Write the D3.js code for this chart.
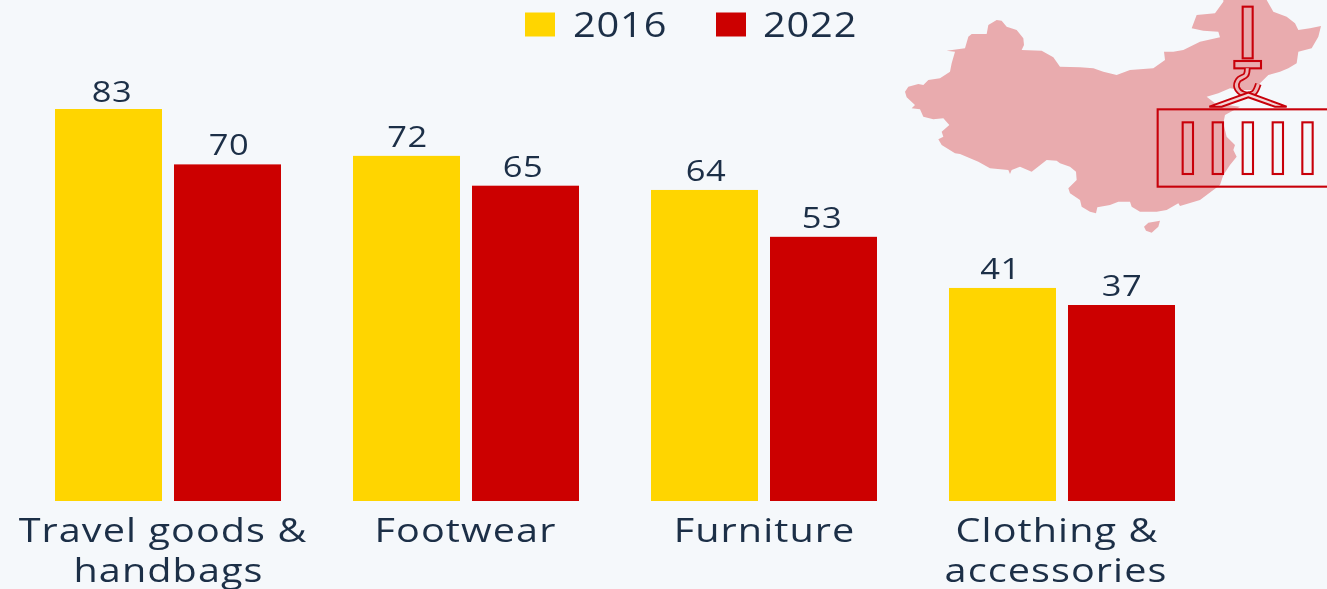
<!DOCTYPE html>
<html><head><meta charset="utf-8">
<script src="https://cdn.jsdelivr.net/npm/d3@7"></script>
<style>
html,body{margin:0;padding:0;background:#f5f8fb;overflow:hidden}
svg{display:block;filter:blur(0.45px)}
text{font-family:"Open Sans",sans-serif;fill:#1c2f47}
</style></head><body><svg id="c" width="1327" height="589"></svg>
<script>
const categories=["Travel goods &|handbags","Footwear","Furniture","Clothing &|accessories"];
const seriesNames=["2016","2022"];
const values2016=[83,72,64,41];
const values2022=[70,65,53,37];
const seriesColors=["#ffd500","#cc0000"];
// decoration outline (map silhouette), traced in crop coordinates
const mapOutline=[[45,275],[55,260],[85,252],[100,255],[115,240],[150,235],[180,215],[185,190],[195,155],[170,152],[225,145],[235,110],[245,102],[290,102],[295,75],[320,60],[335,62],[350,80],[380,90],[400,115],[402,135],[395,150],[455,152],[490,172],[510,200],[570,202],[610,205],[640,215],[680,225],[720,210],[790,205],[825,180],[822,155],[850,155],[880,150],[930,125],[990,112],[985,95],[940,92],[905,85],[920,45],[975,40],[1000,5],[1000,0],[1130,0],[1150,35],[1190,50],[1215,70],[1225,90],[1260,85],[1293,78],[1285,110],[1265,145],[1225,155],[1220,190],[1195,205],[1170,215],[1135,225],[1110,250],[1090,270],[1060,270],[1020,265],[985,280],[950,290],[975,310],[1050,320],[1005,345],[1000,370],[1010,410],[1035,435],[1030,450],[1040,470],[1020,495],[1000,525],[990,555],[950,585],[930,600],[870,618],[865,610],[830,630],[800,635],[785,635],[750,635],[725,620],[720,605],[685,605],[660,615],[622,622],[618,640],[600,635],[575,620],[570,600],[540,580],[535,565],[560,540],[558,515],[540,500],[510,490],[500,482],[470,480],[425,515],[390,500],[365,510],[360,522],[355,510],[300,505],[265,485],[210,462],[195,460],[155,435],[145,418],[160,410],[155,395],[178,375],[160,355],[130,358],[100,350],[90,328],[65,325],[75,315],[50,292]];
const islandOutline=[[762,680],[775,668],[810,662],[805,680],[785,698],[768,692]];
const slotLefts=[878,968,1058,1148,1237];
// small per-label offsets
const valueNudge2016=[3.5,1,1.5,-2];
const valueNudge2022=[1.5,-2.5,-1.5,0.5];
const categoryNudge=[[-5,0.5],[-0.5],[0.5],[-5,-6]];

const svg=d3.select("#c");
const x0=d3.scaleBand().domain(categories).range([55,1175]).paddingInner(72/298);
const x1=d3.scaleBand().domain(seriesNames).range([0,x0.bandwidth()]).paddingInner(12/119);
const y=d3.scaleLinear().domain([-9,83]).range([501,109]);
const color=d3.scaleOrdinal(seriesNames,seriesColors);

// decoration
const cx=d3.scaleLinear().domain([0,437*3]).range([890,1327]);
const cy=d3.scaleLinear().domain([0,240*3]).range([0,240]);
const line=d3.line().x(d=>cx(d[0])).y(d=>cy(d[1]));
const deco=svg.append("g");
deco.append("path").attr("d",line(mapOutline)+"Z").attr("fill","#e9abae");
deco.append("path").attr("d",line(islandOutline)+"Z").attr("fill","#e9abae");
const st={fill:"none",stroke:"#c8000a","stroke-width":2.1};
const box=(a,b,c,d)=>{const r=deco.append("rect").attr("x",cx(a)).attr("y",cy(b)).attr("width",cx(c)-cx(a)).attr("height",cy(d)-cy(b));for(const k in st)r.attr(k,st[k]);return r;};
box(803,328,1320,560);
slotLefts.forEach(a=>box(a,367,a+31,522));
box(1058,20,1088,175);
box(1033,183,1113,205);
const hook=d3.line().curve(d3.curveCatmullRom).x(d=>cx(d[0])).y(d=>cy(d[1]))([[1072,205],[1068,225],[1045,240],[1040,262],[1060,282],[1090,280],[1105,252]]);
deco.append("path").attr("d",hook).attr("fill","none").attr("stroke","#c8000a").attr("stroke-width",6.5);
deco.append("path").attr("d",hook).attr("fill","none").attr("stroke","#ecb4b6").attr("stroke-width",3);
deco.append("path").attr("d",line([[958,320],[1075,278],[1190,320],[1155,320],[1075,292],[995,320]])+"Z").attr("fill","#f3d6d7").attr("stroke","#c8000a").attr("stroke-width",2);

// bars
const series=[values2016,values2022];
const nudges=[valueNudge2016,valueNudge2022];
const groups=svg.append("g").selectAll("g").data(categories).join("g").attr("transform",d=>`translate(${x0(d)},0)`);
seriesNames.forEach((s,si)=>{
  groups.append("rect").attr("x",x1(s)).attr("width",x1.bandwidth())
    .attr("y",(d,i)=>y(series[si][i])).attr("height",(d,i)=>y.range()[0]-y(series[si][i])).attr("fill",color(s));
  groups.append("text")
    .attr("transform",(d,i)=>`translate(${x1(s)+x1.bandwidth()/2+nudges[si][i]},${Math.max(y(series[si][i])-9,101.5)}) scale(1.15,1)`)
    .attr("letter-spacing",0.4).attr("text-anchor","middle").attr("font-size",30).text((d,i)=>series[si][i]);
});

// category axis
const axis=svg.append("g").attr("transform","translate(0,501)").call(d3.axisBottom(x0).tickSize(0));
axis.select(".domain").remove();
axis.selectAll(".tick").each(function(d,ci){
  const g=d3.select(this);
  g.select("text").remove();
  d.split("|").forEach((p,i)=>g.append("text")
    .attr("transform",`translate(${categoryNudge[ci][i]},${41+i*39.5}) scale(1.2,1)`)
    .attr("letter-spacing",0.9).attr("text-anchor","middle").attr("font-size",33).text(p));
});

// legend
const lx=[525,716],tx=[573,763];
seriesNames.forEach((s,i)=>{
  svg.append("rect").attr("x",lx[i]).attr("y",12.5).attr("width",30).attr("height",24).attr("fill",color(s));
  svg.append("text").attr("transform",`translate(${tx[i]},36.5) scale(1.17,1)`).attr("letter-spacing",0.7).attr("font-size",34).text(s);
});
</script></body></html>
